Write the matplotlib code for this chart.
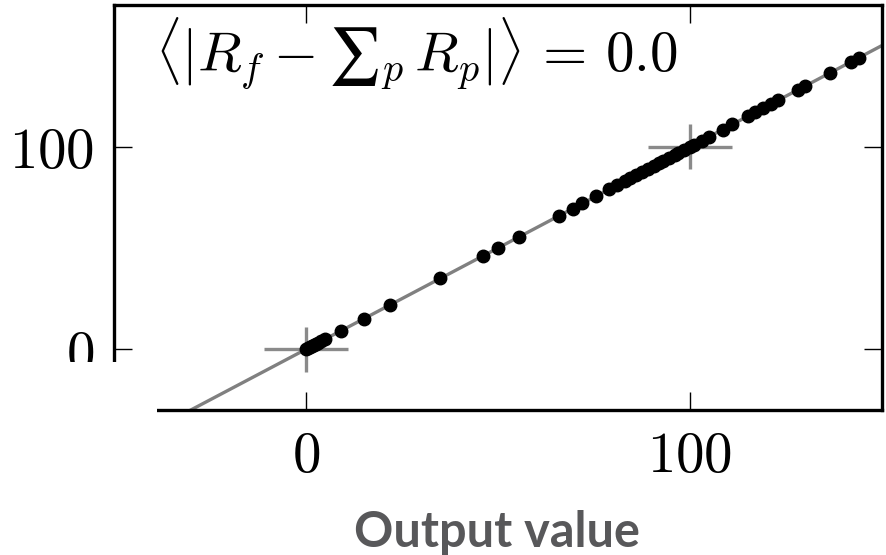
import matplotlib.pyplot as plt
from matplotlib.patches import Rectangle

plt.rcParams['mathtext.fontset'] = 'cm'

# per-output values: full model result vs sum of parts
full_value = [0, 0.5, 1, 1.5, 2, 2.5, 3, 4, 5, 9, 15, 22, 35, 46, 50, 55.5,
              66, 69.5, 72, 75.5, 79, 81, 83, 84.5, 86, 87.5, 89, 90.5, 92,
              93, 94.5, 96, 97, 98.5, 100, 101, 103, 105, 108.5, 111, 115,
              117, 119, 121, 123, 128, 130, 136.5, 142, 144]
sum_of_parts = [0, 0.5, 1, 1.5, 2, 2.5, 3, 4, 5, 9, 15, 22, 35, 46, 50, 55.5,
                66, 69.5, 72, 75.5, 79, 81, 83, 84.5, 86, 87.5, 89, 90.5, 92,
                93, 94.5, 96, 97, 98.5, 100, 101, 103, 105, 108.5, 111, 115,
                117, 119, 121, 123, 128, 130, 136.5, 142, 144]
targets = [0, 100]
diag = [-50, 150]
ticks = [0, 100]
tick_labels = ['$0$', '$100$']

fig = plt.figure(figsize=(8.87, 5.55), dpi=100)
ax = fig.add_axes([114 / 887, 1 - 410 / 555, 768 / 887, 405 / 555])

ax.plot(diag, diag, color='#808080', lw=2.4, zorder=1)
ax.errorbar(targets, targets, xerr=11, yerr=11, fmt='none',
            ecolor='#8a8a8a', elinewidth=2.4, capsize=0, zorder=2)
ax.plot(full_value, sum_of_parts, 'o', color='black', ms=9, zorder=3)

ax.set_xlim(-50, 150)
ax.set_ylim(-30, 170)
ax.set_xticks(ticks, labels=tick_labels)
ax.set_yticks(ticks, labels=tick_labels)
ax.tick_params(direction='in', length=13, width=1, labelsize=41, pad=14,
               top=True, right=True)
for s in ax.spines.values():
    s.set_linewidth(2.4)

ax.text(0.053, 0.835,
        '$\\langle|R_f - {\\mathrm{\u2211}}_p\\, R_p|\\rangle \\,=\\, 0.0$',
        transform=ax.transAxes, fontsize=41, va='baseline', ha='left')

# white patch hiding the lower-left corner, as in the original panel crop
fig.patches.append(Rectangle((0, 0), 157 / 887, 1 - 362 / 555,
                             transform=fig.transFigure, facecolor='white',
                             edgecolor='none', zorder=10))

fig.text(497 / 887, 1 - 547 / 555, 'Output value', family='Lato',
         weight='bold', fontsize=35, color='#58585a', ha='center',
         va='baseline')

fig.savefig('out.png', dpi=100)
